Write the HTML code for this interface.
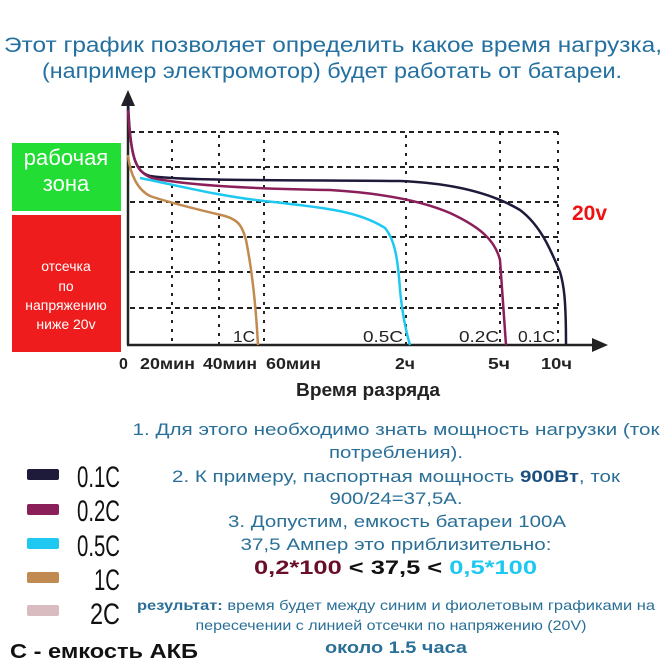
<!DOCTYPE html>
<html><head><meta charset="utf-8"><style>
html,body{margin:0;padding:0;background:#fff;width:667px;height:667px;overflow:hidden}
svg{display:block}
text{font-family:"Liberation Sans",sans-serif}
</style></head><body>
<svg width="667" height="667" viewBox="0 0 667 667" xmlns="http://www.w3.org/2000/svg">
<g fill="#2470a0" font-size="21">
<text x="4" y="52" textLength="658" lengthAdjust="spacingAndGlyphs">Этот график позволяет определить какое время нагрузка,</text>
<text x="42" y="78" textLength="580" lengthAdjust="spacingAndGlyphs">(например электромотор) будет работать от  батареи.</text>
</g>
<rect x="12" y="143" width="109" height="68" fill="#22dd33"/>
<rect x="12" y="215" width="109" height="137" fill="#ee1c1c"/>
<g fill="#fff" text-anchor="middle">
<text x="66" y="165" font-size="22">рабочая</text>
<text x="66" y="191" font-size="22">зона</text>
<text x="66" y="271" font-size="14">отсечка</text>
<text x="66" y="291" font-size="14">по</text>
<text x="66" y="310" font-size="14">напряжению</text>
<text x="66" y="329" font-size="14">ниже 20v</text>
</g>
<g stroke="#222" stroke-width="2" stroke-dasharray="5,4" fill="none">
<line x1="130" y1="132" x2="558" y2="132"/>
<line x1="130" y1="167" x2="558" y2="167"/>
<line x1="130" y1="202" x2="558" y2="202"/>
<line x1="130" y1="237" x2="558" y2="237"/>
<line x1="130" y1="272" x2="558" y2="272"/>
<line x1="130" y1="308" x2="558" y2="308"/>
</g>
<g stroke="#222" stroke-width="2" stroke-dasharray="3,6" fill="none">
<line x1="172" y1="140" x2="172" y2="344"/>
<line x1="219" y1="135" x2="219" y2="344"/>
<line x1="264" y1="140" x2="264" y2="344"/>
<line x1="406" y1="135" x2="406" y2="344"/>
<line x1="500" y1="132" x2="500" y2="344"/>
<line x1="558" y1="132" x2="558" y2="344"/>
</g>
<line x1="128" y1="100" x2="128" y2="345" stroke="#222" stroke-width="2.5"/>
<polygon points="128,90 121,106 135,106" fill="#222"/>
<line x1="127" y1="345" x2="598" y2="345" stroke="#222" stroke-width="2.5"/>
<polygon points="608,345 592,338 592,352" fill="#222"/>
<g fill="none" stroke-width="2.5">
<path d="M128,100 C130,160 136,172 150,176 C180,181 300,180 400,181 C450,183 490,192 520,210 C540,225 550,248 560,272 C564,285 566,300 566,345" stroke="#1e1b3a"/>
<path d="M128,110 C131,160 136,172 152,178 C190,186 264,189 330,190 C380,193 420,200 450,213 C480,227 495,240 500,260 C502,290 504,320 506,345" stroke="#8b1f5a"/>
<path d="M140,178 C180,186 219,196 264,201 C330,208 360,212 385,228 C395,240 398,260 400,290 C403,320 407,335 410,345" stroke="#1ec8f0"/>
<path d="M128,155 C130,175 138,190 150,196 C170,203 200,210 225,216 C238,220 242,225 246,240 C250,260 255,290 258,345" stroke="#c08a50"/>
</g>
<g fill="#222" font-size="16">
<text x="233" y="342" textLength="22" lengthAdjust="spacingAndGlyphs">1C</text>
<text x="363" y="342" textLength="40" lengthAdjust="spacingAndGlyphs">0.5C</text>
<text x="459" y="342" textLength="40" lengthAdjust="spacingAndGlyphs">0.2C</text>
<text x="518" y="342" textLength="37" lengthAdjust="spacingAndGlyphs">0.1C</text>
</g>
<text x="572" y="220" fill="#ee1111" font-size="21" font-weight="bold">20v</text>
<g fill="#222" font-size="16" font-weight="bold">
<text x="119" y="369">0</text>
<text x="140" y="369" textLength="55" lengthAdjust="spacingAndGlyphs">20мин</text>
<text x="203" y="369" textLength="54" lengthAdjust="spacingAndGlyphs">40мин</text>
<text x="266" y="369" textLength="55" lengthAdjust="spacingAndGlyphs">60мин</text>
<text x="395" y="369" textLength="20" lengthAdjust="spacingAndGlyphs">2ч</text>
<text x="488" y="369" textLength="22" lengthAdjust="spacingAndGlyphs">5ч</text>
<text x="541" y="369" textLength="31" lengthAdjust="spacingAndGlyphs">10ч</text>
<text x="296" y="396" font-size="18" textLength="144" lengthAdjust="spacingAndGlyphs">Время разряда</text>
</g>
<g fill="#2a6f97" font-size="17" text-anchor="middle">
<text x="396" y="435" textLength="527" lengthAdjust="spacingAndGlyphs">1. Для этого необходимо знать мощность нагрузки (ток</text>
<text x="396" y="458" textLength="134" lengthAdjust="spacingAndGlyphs">потребления).</text>
<text x="396" y="482" textLength="448" lengthAdjust="spacingAndGlyphs">2. К примеру, паспортная мощность <tspan font-weight="bold" fill="#1a4f80">900Вт</tspan>, ток</text>
<text x="396" y="504" textLength="133" lengthAdjust="spacingAndGlyphs">900/24=37,5А.</text>
<text x="397" y="527" textLength="338" lengthAdjust="spacingAndGlyphs">3. Допустим, емкость батареи 100А</text>
<text x="396" y="550" textLength="311" lengthAdjust="spacingAndGlyphs">37,5 Ампер это приблизительно:</text>
</g>
<text x="254" y="574" font-size="19" font-weight="bold" fill="#6a0f2a" textLength="283" lengthAdjust="spacingAndGlyphs">0,2*100 <tspan fill="#111">&lt; 37,5 &lt;</tspan>  <tspan fill="#1ec8f0">0,5*100</tspan></text>
<g fill="#2a6f97" font-size="14" text-anchor="middle">
<text x="396" y="610" textLength="518" lengthAdjust="spacingAndGlyphs"><tspan font-weight="bold">результат:</tspan> время будет между синим и фиолетовым графиками на</text>
<text x="391" y="630" textLength="391" lengthAdjust="spacingAndGlyphs">пересечении с линией отсечки по напряжению (20V)</text>
<text x="396" y="653" font-size="17" font-weight="bold" textLength="142" lengthAdjust="spacingAndGlyphs">около 1.5 часа</text>
</g>
<rect x="27" y="469" width="32" height="11" rx="2" fill="#1e1b3a"/>
<rect x="27" y="504" width="32" height="11" rx="2" fill="#8b1f5a"/>
<rect x="27" y="538" width="32" height="11" rx="2" fill="#1ec8f0"/>
<rect x="27" y="572" width="32" height="11" rx="2" fill="#c08a50"/>
<rect x="27" y="605" width="32" height="11" rx="2" fill="#d8bcc0"/>
<g fill="#111" font-size="30" text-anchor="end">
<text x="120" y="487" textLength="43" lengthAdjust="spacingAndGlyphs">0.1C</text>
<text x="120" y="521" textLength="43" lengthAdjust="spacingAndGlyphs">0.2C</text>
<text x="120" y="556" textLength="43" lengthAdjust="spacingAndGlyphs">0.5C</text>
<text x="120" y="590" textLength="26" lengthAdjust="spacingAndGlyphs">1C</text>
<text x="120" y="624" textLength="30" lengthAdjust="spacingAndGlyphs">2C</text>
</g>
<text x="10" y="658" fill="#111" font-size="20" font-weight="bold" textLength="188" lengthAdjust="spacingAndGlyphs">С - емкость АКБ</text>
</svg>
</body></html>
